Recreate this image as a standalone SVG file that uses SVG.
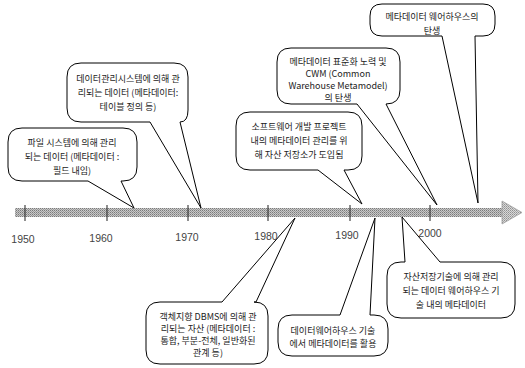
<svg xmlns="http://www.w3.org/2000/svg" width="525" height="368" viewBox="0 0 525 368">
<style>
.b{fill:#fff;stroke:#000;stroke-width:1}
.t{font-family:"Noto Sans CJK KR","Noto Sans",sans-serif;font-size:9px;fill:#222;text-anchor:middle}
.y{font-family:"Liberation Sans",Arial,sans-serif;font-size:10.5px;fill:#444;text-anchor:middle}
.tk{stroke:#333;stroke-width:1.1}
</style>
<defs>
<pattern id="dith" width="2" height="2" patternUnits="userSpaceOnUse">
<rect width="2" height="2" fill="#c8c8c8"/>
<rect width="1" height="1" fill="#7a7a7a"/>
<rect x="1" y="1" width="1" height="1" fill="#9a9a9a"/>
</pattern>
<pattern id="dith2" width="2" height="2" patternUnits="userSpaceOnUse">
<rect width="2" height="2" fill="#d8d8d8"/>
<rect width="1" height="1" fill="#909090"/>
<rect x="1" y="1" width="1" height="1" fill="#a8a8a8"/>
</pattern>
</defs>
<rect width="525" height="368" fill="#fff"/>
<g id="timeline">
<rect x="15" y="208" width="488" height="9" fill="url(#dith)"/>
<polygon points="502,201 522,212.5 502,224" fill="url(#dith2)" stroke="#a0a0a0" stroke-width="0.8"/>
<line class="tk" x1="25" y1="205" x2="25" y2="221"/>
<line class="tk" x1="107" y1="205" x2="107" y2="221"/>
<line class="tk" x1="188" y1="205" x2="188" y2="221"/>
<line class="tk" x1="268" y1="205" x2="268" y2="221"/>
<line class="tk" x1="350" y1="205" x2="350" y2="221"/>
<line class="tk" x1="430" y1="205" x2="430" y2="221"/>
<text class="y" x="23" y="243">1950</text>
<text class="y" x="101" y="242">1960</text>
<text class="y" x="187" y="241">1970</text>
<text class="y" x="266" y="240">1980</text>
<text class="y" x="347" y="239">1990</text>
<text class="y" x="430" y="237">2000</text>
</g>
<g id="connectors"></g>
<g id="n1">
<path class="b" d="M22,128 H123 Q137,128 137,142 V167 Q137,181 123,181 H121 L134,208 L88,181 H22 Q8,181 8,167 V142 Q8,128 22,128 Z"/>
<text class="t" x="72" y="146">파일 시스템에 의해 관리</text>
<text class="t" x="72" y="160">되는 데이터 (메타데이터 :</text>
<text class="t" x="72" y="174">필드 내임)</text>
</g>
<g id="n2">
<path class="b" d="M81,63 H174 Q188,63 188,77 V110 Q188,122 180,122 L201,208 L150,122 H81 Q67,122 67,108 V77 Q67,63 81,63 Z"/>
<text class="t" x="128" y="82">데이터관리시스템에 의해 관</text>
<text class="t" x="128" y="96">리되는 데이터 (메타데이터:</text>
<text class="t" x="128" y="110">테이블 정의 등)</text>
</g>
<g id="n3">
<path class="b" d="M291,48 H386 Q400,48 400,62 V90 Q400,104 386,104 L437,205 L357,104 H291 Q277,104 277,90 V62 Q277,48 291,48 Z"/>
<text class="t" x="338" y="65">메타데이터 표준화 노력 및</text>
<text class="t" x="338" y="77">CWM (Common</text>
<text class="t" x="338" y="89">Warehouse Metamodel)</text>
<text class="t" x="338" y="101">의 탄생</text>
</g>
<g id="n4">
<path class="b" d="M382,4 H483 Q495,4 495,16 V24 Q495,36 483,36 H475 L478,203 L442,36 H382 Q370,36 370,24 V16 Q370,4 382,4 Z"/>
<text class="t" x="432" y="20">메타데이터 웨어하우스의</text>
<text class="t" x="432" y="34">탄생</text>
</g>
<g id="n5">
<path class="b" d="M250,112 H348 Q362,112 362,126 V156 Q362,170 348,170 H344 L362,204 L318,170 H250 Q236,170 236,156 V126 Q236,112 250,112 Z"/>
<text class="t" x="299" y="130">소프트웨어 개발 프로젝트</text>
<text class="t" x="299" y="144">내의 메타데이터 관리를 위</text>
<text class="t" x="299" y="158">해 자산 저장소가 도입됨</text>
</g>
<g id="n6">
<path class="b" d="M160,302 H222 L295,218 L256,302 H254 Q268,302 268,316 V350 Q268,364 254,364 H160 Q146,364 146,350 V316 Q146,302 160,302 Z"/>
<text class="t" x="208" y="320">객체지향 DBMS에 의해 관</text>
<text class="t" x="208" y="332">리되는 자산 (메타데이터 :</text>
<text class="t" x="208" y="344">통합, 부분-전체, 일반화된</text>
<text class="t" x="208" y="356">관계 등)</text>
</g>
<g id="n7">
<path class="b" d="M292,315 H340 L375,218 L370,315 H374 Q388,315 388,329 V342 Q388,356 374,356 H292 Q278,356 278,342 V329 Q278,315 292,315 Z"/>
<text class="t" x="333" y="334">데이터웨어하우스 기술</text>
<text class="t" x="333" y="347">에서 메타데이터를 활용</text>
</g>
<g id="n8">
<path class="b" d="M401,262 H405 L402,217 L440,262 H501 Q515,262 515,276 V304 Q515,318 501,318 H401 Q387,318 387,304 V276 Q387,262 401,262 Z"/>
<text class="t" x="451" y="280">자산저장기술에 의해 관리</text>
<text class="t" x="451" y="294">되는 데이터 웨어하우스 기</text>
<text class="t" x="451" y="308">술 내의 메타데이터</text>
</g>
</svg>
